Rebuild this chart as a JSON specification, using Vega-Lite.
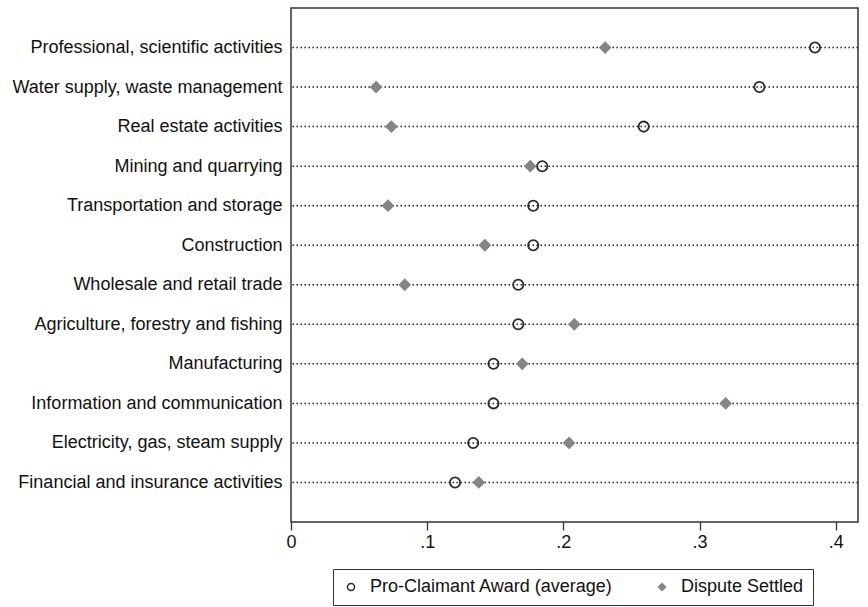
{
  "$schema": "https://vega.github.io/schema/vega-lite/v6.json",
  "width": 567,
  "height": 514,
  "autosize": {"type": "none"},
  "padding": {"left": 291, "top": 8, "right": 10, "bottom": 85},
  "background": "white",
  "config": {
    "font": "Liberation Sans",
    "view": {"stroke": "#333333", "strokeWidth": 1.5},
    "axis": {"labelFont": "Liberation Sans", "labelColor": "#111111", "labelFontSize": 18, "grid": false, "domain": false, "labelLimit": 400}
  },
  "data": {
    "values": [
      {"sector": "Professional, scientific activities", "measure": "Pro-Claimant Award (average)", "value": 0.3848},
      {"sector": "Professional, scientific activities", "measure": "Dispute Settled", "value": 0.2307},
      {"sector": "Water supply, waste management", "measure": "Pro-Claimant Award (average)", "value": 0.3440},
      {"sector": "Water supply, waste management", "measure": "Dispute Settled", "value": 0.0625},
      {"sector": "Real estate activities", "measure": "Pro-Claimant Award (average)", "value": 0.2590},
      {"sector": "Real estate activities", "measure": "Dispute Settled", "value": 0.0737},
      {"sector": "Mining and quarrying", "measure": "Pro-Claimant Award (average)", "value": 0.1845},
      {"sector": "Mining and quarrying", "measure": "Dispute Settled", "value": 0.1757},
      {"sector": "Transportation and storage", "measure": "Pro-Claimant Award (average)", "value": 0.1779},
      {"sector": "Transportation and storage", "measure": "Dispute Settled", "value": 0.0712},
      {"sector": "Construction", "measure": "Pro-Claimant Award (average)", "value": 0.1779},
      {"sector": "Construction", "measure": "Dispute Settled", "value": 0.1424},
      {"sector": "Wholesale and retail trade", "measure": "Pro-Claimant Award (average)", "value": 0.1669},
      {"sector": "Wholesale and retail trade", "measure": "Dispute Settled", "value": 0.0835},
      {"sector": "Agriculture, forestry and fishing", "measure": "Pro-Claimant Award (average)", "value": 0.1669},
      {"sector": "Agriculture, forestry and fishing", "measure": "Dispute Settled", "value": 0.2081},
      {"sector": "Manufacturing", "measure": "Pro-Claimant Award (average)", "value": 0.1487},
      {"sector": "Manufacturing", "measure": "Dispute Settled", "value": 0.1698},
      {"sector": "Information and communication", "measure": "Pro-Claimant Award (average)", "value": 0.1487},
      {"sector": "Information and communication", "measure": "Dispute Settled", "value": 0.3192},
      {"sector": "Electricity, gas, steam supply", "measure": "Pro-Claimant Award (average)", "value": 0.1338},
      {"sector": "Electricity, gas, steam supply", "measure": "Dispute Settled", "value": 0.2042},
      {"sector": "Financial and insurance activities", "measure": "Pro-Claimant Award (average)", "value": 0.1205},
      {"sector": "Financial and insurance activities", "measure": "Dispute Settled", "value": 0.1379}
    ]
  },
  "encoding": {
    "y": {
      "field": "sector",
      "type": "nominal",
      "sort": ["Professional, scientific activities", "Water supply, waste management", "Real estate activities", "Mining and quarrying", "Transportation and storage", "Construction", "Wholesale and retail trade", "Agriculture, forestry and fishing", "Manufacturing", "Information and communication", "Electricity, gas, steam supply", "Financial and insurance activities"],
      "scale": {"type": "point", "padding": 1.07},
      "axis": {"title": null, "ticks": false, "labelPadding": 9}
    }
  },
  "layer": [
    {
      "transform": [{"filter": "datum.measure === 'Dispute Settled'"}],
      "mark": {"type": "rule", "color": "#222222", "strokeWidth": 1.5, "strokeDash": [1.5, 2.5]},
      "encoding": {}
    },
    {
      "mark": {"type": "point", "size": 105, "strokeWidth": 1.8, "opacity": 1},
      "encoding": {
        "x": {
          "field": "value",
          "type": "quantitative",
          "scale": {"domain": [0, 0.4164], "nice": false, "zero": false},
          "axis": {
            "title": null,
            "values": [0, 0.1, 0.2, 0.3, 0.4],
            "labelExpr": "datum.value == 0 ? '0' : replace(format(datum.value, '.1f'), '0.', '.')",
            "labelFlush": false,
            "ticks": true,
            "tickSize": 8,
            "tickColor": "#333333",
            "tickWidth": 1.3,
            "labelPadding": 3
          }
        },
        "shape": {
          "field": "measure",
          "type": "nominal",
          "scale": {"domain": ["Pro-Claimant Award (average)", "Dispute Settled"], "range": ["circle", "diamond"]},
          "legend": {
            "title": null,
            "orient": "none",
            "legendX": 42,
            "legendY": 561,
            "direction": "horizontal",
            "columns": 2,
            "strokeColor": "#333333",
            "padding": 9,
            "symbolSize": 50,
            "symbolStrokeWidth": 1.5,
            "labelFontSize": 18,
            "labelFont": "Liberation Sans",
            "labelColor": "#111111",
            "labelOffset": 10,
            "columnPadding": 40,
            "labelLimit": 400
          }
        },
        "fill": {
          "field": "measure",
          "type": "nominal",
          "scale": {"domain": ["Pro-Claimant Award (average)", "Dispute Settled"], "range": ["transparent", "#858585"]},
          "legend": null
        },
        "stroke": {
          "field": "measure",
          "type": "nominal",
          "scale": {"domain": ["Pro-Claimant Award (average)", "Dispute Settled"], "range": ["#2a2a2a", "#858585"]},
          "legend": null
        }
      }
    }
  ]
}
